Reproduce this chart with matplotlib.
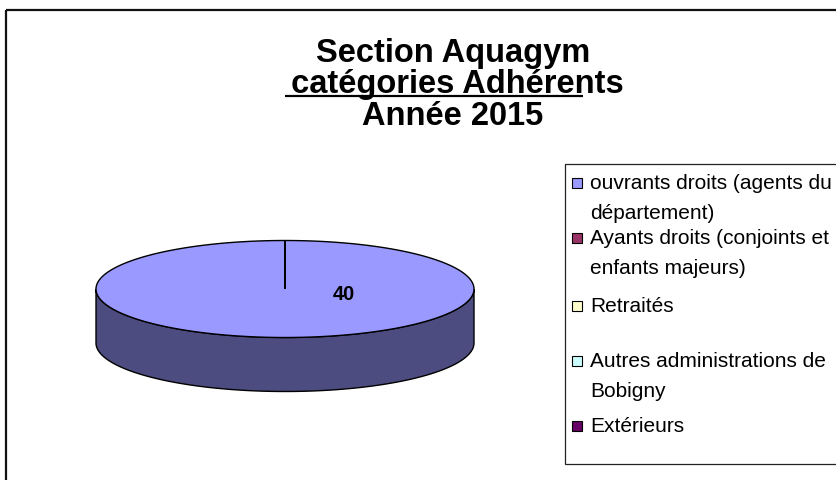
import numpy as np
import matplotlib
matplotlib.use("Agg")
import matplotlib.pyplot as plt
from matplotlib.patches import Polygon, Rectangle

plt.rcParams['font.family'] = ['Liberation Sans', 'DejaVu Sans']

# ---- data ----
title_lines = ["Section Aquagym", " catégories Adhérents", "Année 2015"]
categories = ["ouvrants droits (agents du\ndépartement)",
              "Ayants droits (conjoints et\nenfants majeurs)",
              "Retraités",
              "Autres administrations de\nBobigny",
              "Extérieurs"]
values = [40, 0, 0, 0, 0]
colors = ["#9999FF", "#993366", "#FFFFCC", "#CCFFFF", "#660066"]
side_colors = ["#4C4C80", "#4D1A33", "#808066", "#668080", "#330033"]

W, H = 837, 481
fig = plt.figure(figsize=(W / 100, H / 100), dpi=100)
ax = fig.add_axes([0, 0, 1, 1])
ax.set_xlim(0, W)
ax.set_ylim(H, 0)
ax.axis('off')

# chart border
ax.add_patch(Rectangle((6, 11), 900, 600, fill=False, lw=1.6, ec="#111111"))

# title
tx = 453
ax.text(tx, 62, title_lines[0], ha='center', va='baseline', fontsize=23.5, fontweight='bold')
ax.text(tx, 93, title_lines[1], ha='center', va='baseline', fontsize=23.5, fontweight='bold')
ax.plot([285, 583], [97, 97], color='black', lw=1.6, solid_capstyle='butt')
ax.text(tx, 125, title_lines[2], ha='center', va='baseline', fontsize=23.5, fontweight='bold')

# 3D pie geometry
cx, cy, a, b, depth = 285, 290, 189, 48.5, 54
total = sum(values)
fracs = np.cumsum([0] + values) / total
t_start = -np.pi / 2

def arc(t0, t1, dy=0, n=200):
    t = np.linspace(t0, t1, n)
    return np.column_stack([cx + a * np.cos(t), cy + dy + b * np.sin(t)])

# sides (front half: t in [0, pi] mod 2pi)
for i, v in enumerate(values):
    if v <= 0:
        continue
    t0 = t_start + fracs[i] * 2 * np.pi
    t1 = t_start + fracs[i + 1] * 2 * np.pi
    for k in (-1, 0, 1):
        lo = max(t0, 0 + 2 * np.pi * k)
        hi = min(t1, np.pi + 2 * np.pi * k)
        if hi > lo:
            top = arc(lo, hi)
            bot = arc(hi, lo, dy=depth)
            ax.add_patch(Polygon(np.vstack([top, bot]), closed=True,
                                 fc=side_colors[i], ec='black', lw=1.0, zorder=2))

# top faces
for i, v in enumerate(values):
    if v <= 0:
        continue
    t0 = t_start + fracs[i] * 2 * np.pi
    t1 = t_start + fracs[i + 1] * 2 * np.pi
    pts = np.vstack([[cx, cy], arc(t0, t1, n=400), [cx, cy]])
    ax.add_patch(Polygon(pts, closed=True, fc=colors[i], ec='black', lw=1.0,
                         joinstyle='miter', zorder=3))

# data label
for i, v in enumerate(values):
    if v > 0:
        ax.text(cx + 0.31 * a, cy + 5, f"{v}", ha='center', va='center',
                fontsize=14.5, fontweight='bold', zorder=4)

# legend
ax.add_patch(Rectangle((565, 165), 400, 300, fill=False, lw=0.9, ec="#222222"))
baselines = [189, 244, 312, 367, 432]
line_gap = 30
for lab, col, yb in zip(categories, colors, baselines):
    ax.add_patch(Rectangle((572, yb - 10), 10, 10, fc=col, ec='black', lw=0.8))
    for j, ln in enumerate(lab.split("\n")):
        ax.text(590, yb + j * line_gap, ln, ha='left', va='baseline', fontsize=15)

fig.savefig("out.png", dpi=100)
